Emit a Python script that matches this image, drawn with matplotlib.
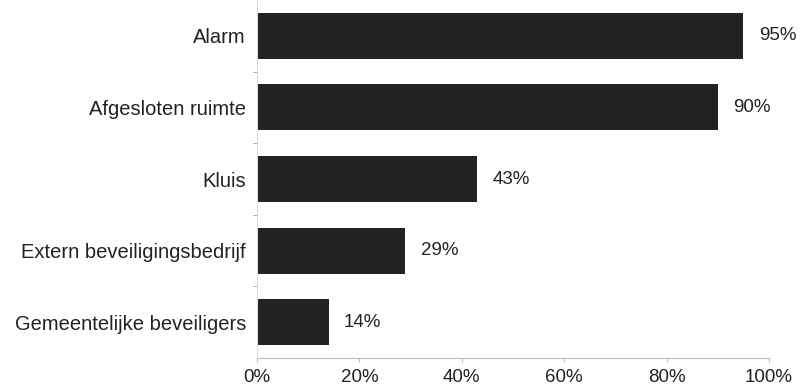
import matplotlib
matplotlib.use("Agg")
import matplotlib.pyplot as plt
from matplotlib.ticker import FixedLocator

categories = ["Alarm", "Afgesloten ruimte", "Kluis",
              "Extern beveiligingsbedrijf", "Gemeentelijke beveiligers"]
values = [95, 90, 43, 29, 14]
x_ticks = [0, 20, 40, 60, 80, 100]

plt.rcParams["font.family"] = ["Liberation Sans", "DejaVu Sans"]

fig = plt.figure(figsize=(8, 3.92), dpi=100)
ax = fig.add_axes([257 / 800, 34 / 392, 512 / 800, 358 / 392])

pos = list(range(len(categories)))
ax.barh(pos, values, height=0.64, color="#222222")
for p, v in zip(pos, values):
    ax.text(v + 3.0, p, f"{v}%", va="center", ha="left", fontsize=13.5, color="#222222")

ax.set_ylim(len(categories) - 0.5, -0.5)
ax.set_xlim(0, 100)
ax.set_yticks(pos)
ax.set_yticklabels(categories, fontsize=14.5, color="#222222")
ax.tick_params(axis="y", length=0, pad=8)
ax.yaxis.set_minor_locator(FixedLocator([p + 0.5 for p in pos[:-1]]))
ax.tick_params(axis="y", which="minor", length=3, color="#999999")

ax.set_xticks(x_ticks)
ax.set_xticklabels([f"{t}%" for t in x_ticks], fontsize=13.5, color="#222222")
ax.tick_params(axis="x", length=3, color="#bbbbbb", pad=5)

for s in ["top", "right"]:
    ax.spines[s].set_visible(False)
ax.spines["left"].set_color("#dddddd")
ax.spines["bottom"].set_color("#bbbbbb")

fig.savefig("out.png", dpi=100)
